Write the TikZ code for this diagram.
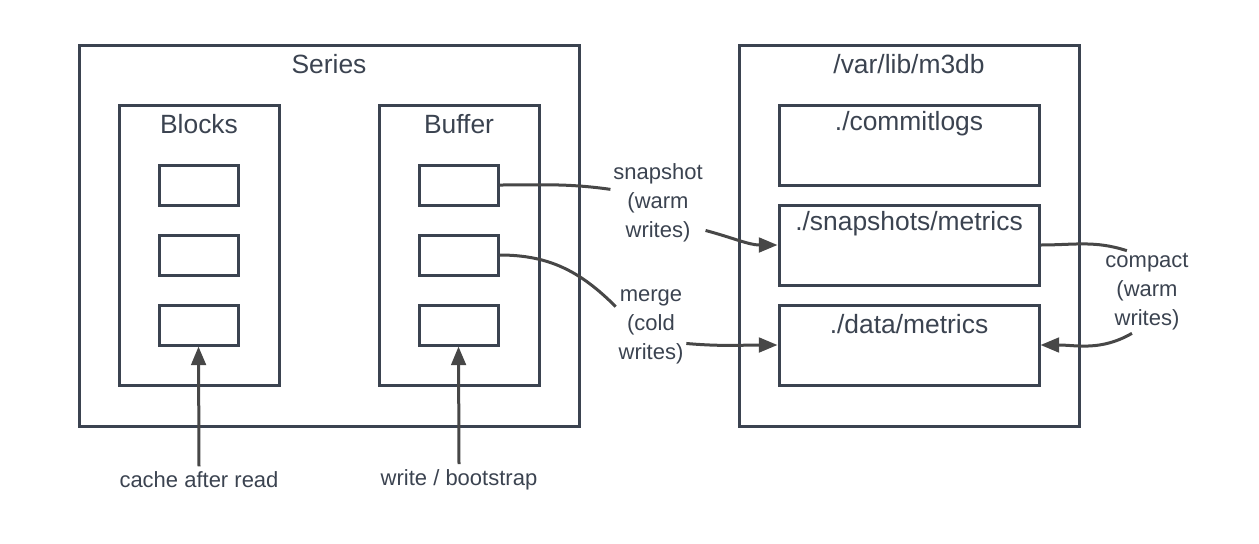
\documentclass[tikz,border=0pt]{standalone}
\usepackage{fontspec}
\setmainfont{Liberation Sans}
\usetikzlibrary{arrows.meta,positioning}
\definecolor{boxline}{HTML}{3B4350}
\definecolor{arrline}{HTML}{474747}
\tikzset{
  box/.style={draw=boxline,line width=2.25pt,inner sep=0pt},
  cell/.style={box,minimum width=59.25pt,minimum height=30pt},
  dirbox/.style={box,minimum width=195pt,minimum height=60pt},
  txt/.style={text=boxline,font=\fontsize{16.5}{21.75}\selectfont,align=center,inner sep=2pt},
  title/.style={txt,font=\fontsize{19.8}{24}\selectfont},
  link/.style={draw=arrline,line width=2.25pt},
  arr/.style={link,-{Triangle[length=14pt,width=11pt]}},
}

\begin{document}
\begin{tikzpicture}[x=0.75pt,y=-0.75pt]
\useasboundingbox (0,0) rectangle (1259,543);
% memory side
\node[box,minimum width=375pt,minimum height=285.75pt] (series) at (329,235.5) {};
\node[title] (seriesT) at (329,64) {Series};
\node[box,minimum width=120pt,minimum height=210pt] (blocks) at (199,245) {};
\node[title] (blocksT) at (199,124) {Blocks};
\node[box,minimum width=120pt,minimum height=210pt] (buffer) at (459,245) {};
\node[title] (bufferT) at (459,124) {Buffer};
\foreach \y/\n in {185/1,255/2,325/3} {
	\node[cell] (blk\n) at (198.5,\y) {};
	\node[cell] (buf\n) at (458.5,\y) {};
}
% disk side
\node[box,minimum width=255pt,minimum height=285.75pt] (disk) at (909,235.5) {};
\node[title] (diskT) at (909,64) {/var/lib/m3db};
\node[dirbox] (commit) at (909,145) {};
\node[title] (commitT) at (909,124) {./commitlogs};
\node[dirbox] (snaps) at (909,245) {};
\node[title] (snapsT) at (909,224) {./snapshots/metrics};
\node[dirbox] (data) at (909,345) {};
\node[title] (dataT) at (909,324) {./data/metrics};
% inputs
\node[txt,inner sep=4pt] (cache) at (199,480) {cache after read};
\node[txt,inner sep=4pt] (write) at (459,480) {write / bootstrap};
\draw[arr] (cache.north) -- (blk3.south);
\draw[arr] (write.north) -- (buf3.south);
% flushes
\node[txt] (snap) at (658,203) {snapshot\\(warm\\writes)};
\draw[link] (buf1.east) to[out=0,in=172] (snap.164);
\draw[arr] (snap.330) to[out=-15,in=180] (snaps.west);
\node[txt] (merge) at (651,327) {merge\\(cold\\writes)};
\draw[link] (buf2.east) to[out=0,in=135] (merge.150);
\draw[arr] (merge.335) to[out=-5,in=180] (data.west);
\node[txt] (compact) at (1147,292) {compact\\(warm\\writes)};
\draw[link] (snaps.east) to[out=0,in=162] (compact.116);
\draw[arr] (compact.250) to[out=210,in=0] (data.east);
\end{tikzpicture}
\end{document}
